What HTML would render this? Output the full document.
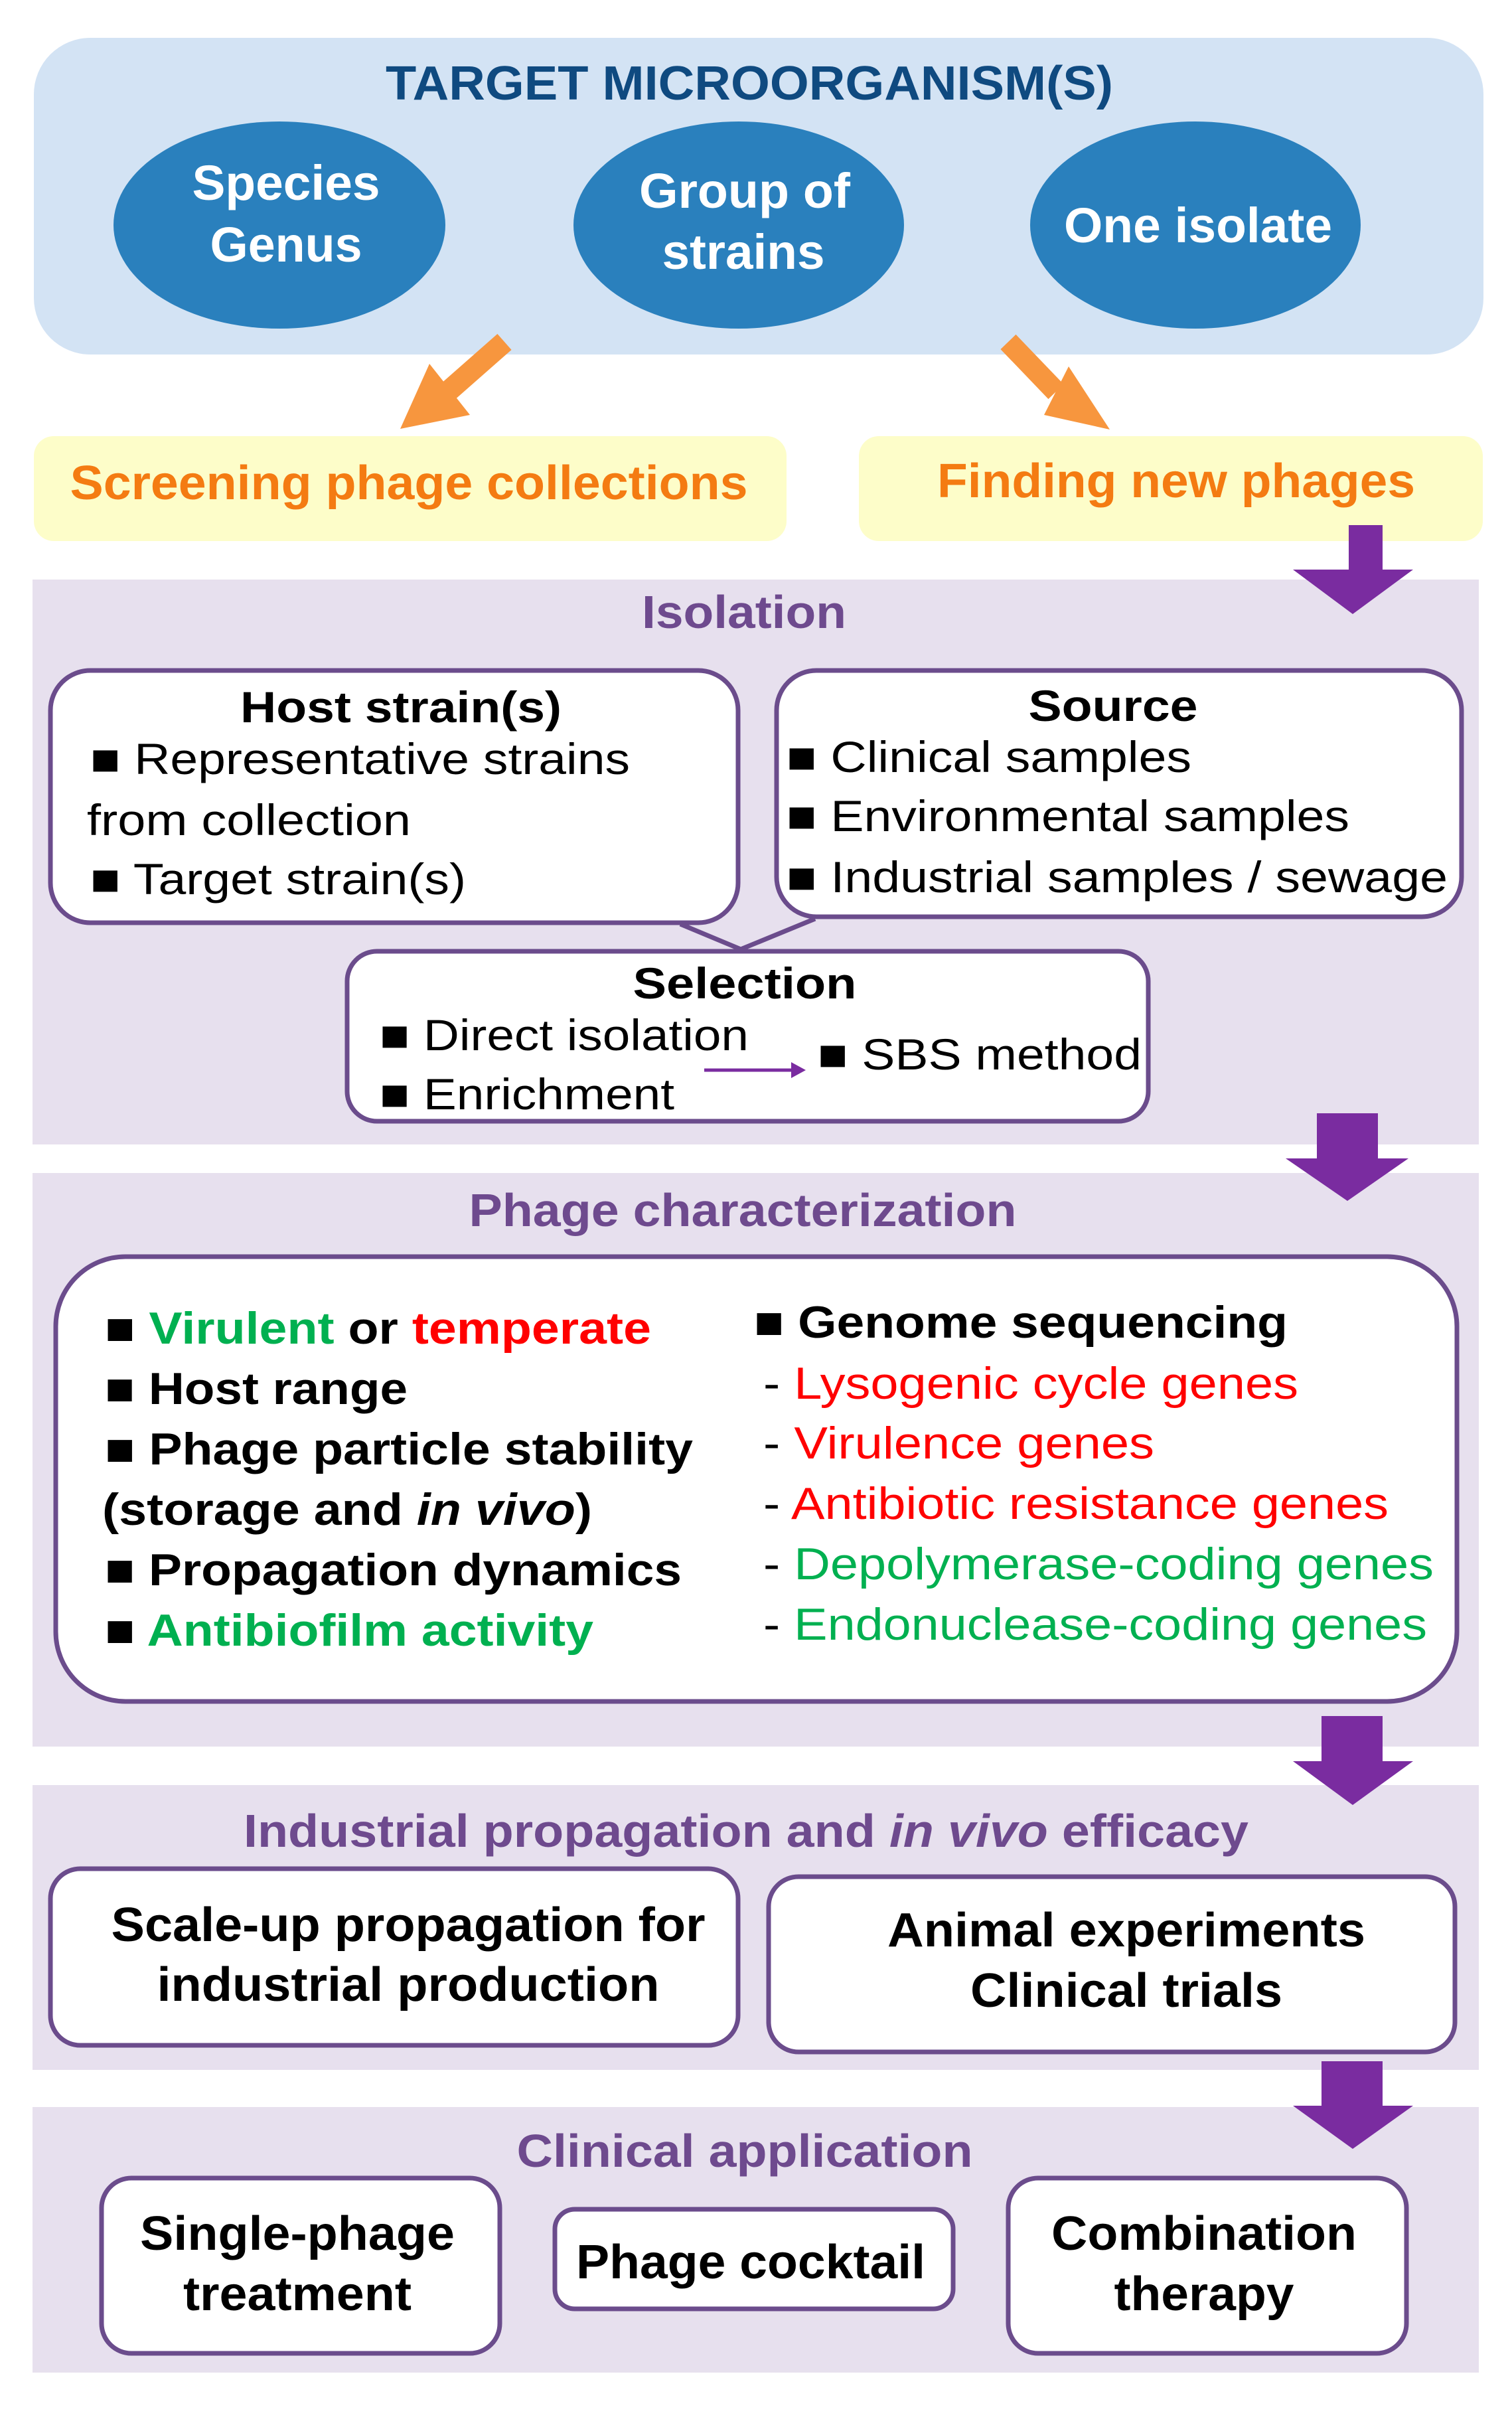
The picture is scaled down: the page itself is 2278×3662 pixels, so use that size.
<!DOCTYPE html>
<html><head><meta charset="utf-8"><style>
html,body{margin:0;padding:0;background:#fff}
svg{display:block}
text{font-family:"Liberation Sans",Arial,sans-serif}
</style></head><body>
<svg width="2278" height="3662" viewBox="0 0 2278 3662" xmlns="http://www.w3.org/2000/svg">
<!-- top box -->
<rect x="51" y="57" width="2184" height="477" rx="85" fill="#d3e3f4"/>
<text x="1129" y="150" font-size="72" font-weight="bold" fill="#0f4a80" text-anchor="middle" textLength="1096" lengthAdjust="spacingAndGlyphs">TARGET MICROORGANISM(S)</text>
<ellipse cx="421" cy="339" rx="250" ry="156" fill="#2a80bd"/>
<ellipse cx="1113" cy="339" rx="249" ry="156" fill="#2a80bd"/>
<ellipse cx="1801" cy="339" rx="249" ry="156" fill="#2a80bd"/>
<g font-size="74" font-weight="bold" fill="#fff" text-anchor="middle" lengthAdjust="spacingAndGlyphs">
<text x="431" y="301" textLength="283" lengthAdjust="spacingAndGlyphs">Species</text>
<text x="431" y="394" textLength="229" lengthAdjust="spacingAndGlyphs">Genus</text>
<text x="1122" y="313" textLength="318" lengthAdjust="spacingAndGlyphs">Group of</text>
<text x="1120" y="405" textLength="245" lengthAdjust="spacingAndGlyphs">strains</text>
<text x="1805" y="365" textLength="404" lengthAdjust="spacingAndGlyphs">One isolate</text>
</g>
<!-- orange arrows -->
<g fill="#f7963e" stroke="none">
<line x1="760" y1="515" x2="677" y2="588" stroke="#f7963e" stroke-width="32"/>
<polygon points="647,548 708,625 603,646"/>
<line x1="1519" y1="515" x2="1591" y2="590" stroke="#f7963e" stroke-width="32"/>
<polygon points="1610,552 1573,625 1672,647"/>
</g>
<!-- yellow boxes -->
<rect x="51" y="657" width="1134" height="158" rx="30" fill="#fdfdc9"/>
<rect x="1294" y="657" width="940" height="158" rx="30" fill="#fdfdc9"/>
<text x="616" y="752" font-size="72" font-weight="bold" fill="#f47b12" text-anchor="middle" textLength="1021" lengthAdjust="spacingAndGlyphs">Screening phage collections</text>
<text x="1772" y="749" font-size="72" font-weight="bold" fill="#f47b12" text-anchor="middle" textLength="720" lengthAdjust="spacingAndGlyphs">Finding new phages</text>

<!-- Isolation panel -->
<rect x="49" y="873" width="2179" height="851" fill="#e7e0ee"/>
<text x="1121" y="946" font-size="70" font-weight="bold" fill="#6e4a8e" text-anchor="middle" textLength="308" lengthAdjust="spacingAndGlyphs">Isolation</text>
<g fill="#fff" stroke="#6b4c8c" stroke-width="7">
<rect x="76" y="1010" width="1036" height="380" rx="60"/>
<rect x="1170" y="1010" width="1032" height="371" rx="60"/>
<polyline points="1025,1392 1116,1430 1228,1384" fill="none"/>
<rect x="523" y="1433" width="1207" height="256" rx="45"/>
</g>
<g font-size="66" fill="#000">
<text x="604" y="1088" font-weight="bold" text-anchor="middle" textLength="484" lengthAdjust="spacingAndGlyphs">Host strain(s)</text>
<text x="136" y="1166" textLength="813" lengthAdjust="spacingAndGlyphs">■ Representative strains</text>
<text x="131" y="1258" textLength="488" lengthAdjust="spacingAndGlyphs">from collection</text>
<text x="136" y="1347" textLength="566" lengthAdjust="spacingAndGlyphs">■ Target strain(s)</text>
<text x="1677" y="1086" font-weight="bold" text-anchor="middle" textLength="255" lengthAdjust="spacingAndGlyphs">Source</text>
<text x="1185" y="1163" textLength="610" lengthAdjust="spacingAndGlyphs">■ Clinical samples</text>
<text x="1185" y="1252" textLength="848" lengthAdjust="spacingAndGlyphs">■ Environmental samples</text>
<text x="1185" y="1344" textLength="996" lengthAdjust="spacingAndGlyphs">■ Industrial samples / sewage</text>
<text x="1122" y="1504" font-weight="bold" text-anchor="middle" textLength="337" lengthAdjust="spacingAndGlyphs">Selection</text>
<text x="572" y="1582" textLength="556" lengthAdjust="spacingAndGlyphs">■ Direct isolation</text>
<text x="572" y="1671" textLength="444" lengthAdjust="spacingAndGlyphs">■ Enrichment</text>
<text x="1232" y="1611" textLength="488" lengthAdjust="spacingAndGlyphs">■ SBS method</text>
</g>
<line x1="1061" y1="1612" x2="1200" y2="1612" stroke="#7a2ca0" stroke-width="5"/>
<polygon points="1214,1612 1192,1600 1192,1624" fill="#7a2ca0"/>

<!-- Phage characterization -->
<rect x="49" y="1767" width="2179" height="864" fill="#e7e0ee"/>
<text x="1119" y="1847" font-size="70" font-weight="bold" fill="#6e4a8e" text-anchor="middle" textLength="825" lengthAdjust="spacingAndGlyphs">Phage characterization</text>
<rect x="84" y="1893" width="2111" height="670" rx="105" fill="#fff" stroke="#6b4c8c" stroke-width="7"/>
<g font-size="68" font-weight="bold" fill="#000">
<text x="158" y="2024" textLength="823" lengthAdjust="spacingAndGlyphs">■ <tspan fill="#00b050">Virulent</tspan> or <tspan fill="#ff0000">temperate</tspan></text>
<text x="158" y="2115" textLength="456" lengthAdjust="spacingAndGlyphs">■ Host range</text>
<text x="158" y="2206" textLength="886" lengthAdjust="spacingAndGlyphs">■ Phage particle stability</text>
<text x="154" y="2297" textLength="738" lengthAdjust="spacingAndGlyphs">(storage and <tspan font-style="italic">in vivo</tspan>)</text>
<text x="158" y="2388" textLength="869" lengthAdjust="spacingAndGlyphs">■ Propagation dynamics</text>
<text x="158" y="2479" textLength="736" lengthAdjust="spacingAndGlyphs">■ <tspan fill="#00b050">Antibiofilm activity</tspan></text>
<text x="1136" y="2015" textLength="804" lengthAdjust="spacingAndGlyphs">■ Genome sequencing</text>
</g>
<g font-size="68" fill="#000">
<text x="1150" y="2107" textLength="806" lengthAdjust="spacingAndGlyphs">- <tspan fill="#ff0000">Lysogenic cycle genes</tspan></text>
<text x="1150" y="2197" textLength="589" lengthAdjust="spacingAndGlyphs">- <tspan fill="#ff0000">Virulence genes</tspan></text>
<text x="1150" y="2288" textLength="942" lengthAdjust="spacingAndGlyphs">- <tspan fill="#ff0000">Antibiotic resistance genes</tspan></text>
<text x="1150" y="2379" textLength="1010" lengthAdjust="spacingAndGlyphs">- <tspan fill="#00b050">Depolymerase-coding genes</tspan></text>
<text x="1150" y="2470" textLength="1000" lengthAdjust="spacingAndGlyphs">- <tspan fill="#00b050">Endonuclease-coding genes</tspan></text>
</g>

<!-- Industrial -->
<rect x="49" y="2689" width="2179" height="429" fill="#e7e0ee"/>
<text x="1124" y="2782" font-size="70" font-weight="bold" fill="#6e4a8e" text-anchor="middle" textLength="1514" lengthAdjust="spacingAndGlyphs">Industrial propagation and <tspan font-style="italic">in vivo</tspan> efficacy</text>
<g fill="#fff" stroke="#6b4c8c" stroke-width="7">
<rect x="76" y="2815" width="1036" height="266" rx="45"/>
<rect x="1158" y="2827" width="1034" height="264" rx="45"/>
</g>
<g font-size="72" font-weight="bold" fill="#000" text-anchor="middle">
<text x="615" y="2924" textLength="895" lengthAdjust="spacingAndGlyphs">Scale-up propagation for</text>
<text x="615" y="3014" textLength="757" lengthAdjust="spacingAndGlyphs">industrial production</text>
<text x="1697" y="2932" textLength="720" lengthAdjust="spacingAndGlyphs">Animal experiments</text>
<text x="1697" y="3023" textLength="470" lengthAdjust="spacingAndGlyphs">Clinical trials</text>
</g>

<!-- Clinical -->
<rect x="49" y="3174" width="2179" height="400" fill="#e7e0ee"/>
<text x="1122" y="3264" font-size="70" font-weight="bold" fill="#6e4a8e" text-anchor="middle" textLength="687" lengthAdjust="spacingAndGlyphs">Clinical application</text>
<g fill="#fff" stroke="#6b4c8c" stroke-width="7">
<rect x="153" y="3281" width="600" height="264" rx="45"/>
<rect x="836" y="3328" width="600" height="150" rx="30"/>
<rect x="1519" y="3281" width="600" height="264" rx="45"/>
</g>
<g font-size="72" font-weight="bold" fill="#000" text-anchor="middle">
<text x="448" y="3389" textLength="474" lengthAdjust="spacingAndGlyphs">Single-phage</text>
<text x="448" y="3480" textLength="344" lengthAdjust="spacingAndGlyphs">treatment</text>
<text x="1131" y="3432" textLength="526" lengthAdjust="spacingAndGlyphs">Phage cocktail</text>
<text x="1814" y="3389" textLength="460" lengthAdjust="spacingAndGlyphs">Combination</text>
<text x="1814" y="3480" textLength="271" lengthAdjust="spacingAndGlyphs">therapy</text>
</g>

<!-- purple arrows -->
<g fill="#7a2ca0">
<polygon points="2032,791 2083,791 2083,858 2129,858 2038,925 1948,858 2032,858"/>
<polygon points="1984,1677 2076,1677 2076,1745 2122,1745 2030,1809 1937,1745 1984,1745"/>
<polygon points="1991,2585 2083,2585 2083,2653 2129,2653 2038,2719 1948,2653 1991,2653"/>
<polygon points="1991,3105 2083,3105 2083,3172 2129,3172 2038,3237 1948,3172 1991,3172"/>
</g>
</svg>
</body></html>
